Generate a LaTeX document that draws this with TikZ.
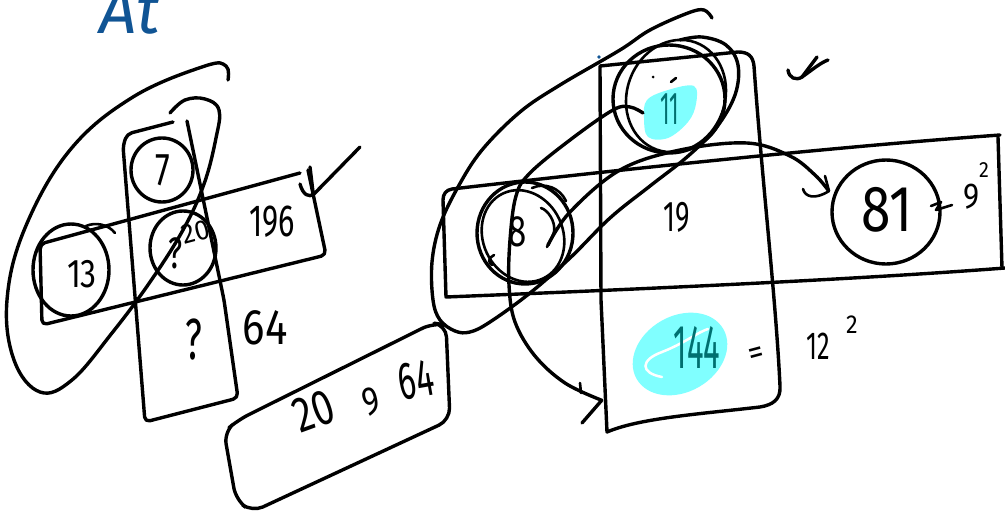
\documentclass[tikz,border=0pt]{standalone}
\usepackage{fontspec}
\usepackage{graphicx}
\setmainfont{Fira Sans}
\definecolor{inkblue}{RGB}{16,84,148}
\definecolor{teal1}{RGB}{0,112,112}
\definecolor{hlcyan}{RGB}{128,255,255}
\newcommand{\hw}[3]{\scalebox{#2}[1]{\fontsize{#1}{#1}\selectfont #3}}
\begin{document}
\begin{tikzpicture}[x=1pt,y=-1pt,
  ink/.style={line width=3.4pt, line cap=round, line join=round},
  fine/.style={line width=2.6pt, line cap=round, line join=round},
  hand/.style={inner sep=0pt, outer sep=0pt}]
\useasboundingbox (0,0) rectangle (1005,514);
\fill[white] (0,0) rectangle (1005,514);

% ---------- highlights (behind) ----------
\fill[hlcyan, rotate around={30:(680,354)}] (680,354) ellipse [x radius=50, y radius=38];
\draw[white, line width=2.5pt, line cap=round] (662,377) .. controls (640,373) and (640,360) .. (662,352) .. controls (685,343) and (698,332) .. (708,329);
\fill[hlcyan] plot[smooth cycle, tension=0.6] coordinates {(647,100) (668,90) (694,86) (696,104) (688,122) (668,138) (648,137) (644,118)};

% ---------- "At" ----------
\node[hand, anchor=base, text=inkblue] (at) at (130,34) {\fontsize{66}{66}\selectfont\itshape At};

% ---------- left figure ----------
\draw[ink, rounded corners=5pt] (173,122) -- (127,134) -- (123,146) -- (145,422) -- (238,398) -- (224,300) -- (187,121);
\draw[ink, rounded corners=5pt] (300,173) -- (40,244) -- (42,325) -- (326,255) -- (308,170);
\draw[ink] (162,170) ellipse [x radius=31, y radius=32];
\draw[ink] (183,248) ellipse [x radius=33, y radius=37];
\draw[ink] (71,270) ellipse [x radius=38, y radius=46];
\draw[fine] (86,226) .. controls (95,222) and (108,224) .. (115,233);
\draw[ink] plot[smooth, tension=0.65] coordinates {(228,80) (226,66) (205,66) (133,97) (70,150) (25,228) (7,300) (14,360) (40,392) (72,380) (112,333) (150,282) (183,230) (204,184) (216,138) (219,110) (205,99) (185,100) (170,113)};
\draw[ink] (300,184) .. controls (303,195) and (309,198) .. (314,194) -- (360,147);
\draw[ink] (310,167) -- (313,192);

\node[hand] (t7) at (163,170) {\hw{46}{0.72}{7}};
\node[hand] (t13) at (82,274) {\hw{40}{0.8}{13}};
\node[hand] (tq20) at (176,253) {\hw{44}{0.7}{?}};
\node[hand] (t20a) at (196,232) {\rotatebox{15}{\hw{28}{0.95}{20}}};
\node[hand] (t196) at (272,222) {\hw{45}{0.68}{196}};
\node[hand] (tq) at (194,340) {\hw{58}{0.63}{?}};
\node[hand] (t64) at (265,328) {\hw{50}{0.84}{64}};

% ---------- 20 9 64 box ----------
\draw[ink, rounded corners=12pt] (433,323) -- (446,325) -- (450,420) -- (252,512) -- (236,500) -- (224,432) -- (238,420) -- cycle;
\node[hand] (t20) at (314,411) {\rotatebox{20}{\hw{50}{0.76}{20}}};
\node[hand] (t9) at (371,402) {\rotatebox{15}{\hw{40}{0.8}{9}}};
\node[hand] (t64b) at (416,380) {\rotatebox{10}{\hw{53}{0.62}{64}}};

% ---------- right figure: frames ----------
\draw[ink] (600,66) -- (738,52) .. controls (748,52) and (753,56) .. (754,66) .. controls (762,180) and (776,300) .. (780,386) .. controls (781,400) and (772,405) .. (760,407) .. controls (700,414) and (640,418) .. (607,432) -- (601,300) -- (600,66);
\draw[ink] (1000,135) .. controls (820,148) and (600,172) .. (452,189) .. controls (446,190) and (443,194) .. (443,200) -- (446,297) .. controls (620,290) and (850,280) .. (1005,268);
\draw[ink] (998,137) -- (1002,268);

% circles
\draw[ink] (669,99) ellipse [x radius=56, y radius=54];
\draw[fine, rotate around={-20:(676,96)}] (676,96) ellipse [x radius=49, y radius=57];
\draw[ink] (525,233) ellipse [x radius=48, y radius=51];
\draw[fine, rotate around={25:(523,236)}] (523,236) ellipse [x radius=40, y radius=47];
\draw[ink] (886,212) ellipse [x radius=54, y radius=52];

% small scribbles around 8 and 11
\draw[fine] (532,188) .. controls (545,182) and (560,188) .. (566,201);
\draw[fine] (541,208) .. controls (548,210) and (556,222) .. (554,232) .. controls (552,238) and (549,243) .. (547,247);
\draw[fine] (494,255) .. controls (488,258) and (488,263) .. (492,265);
\fill (653,77) circle (1.5pt);
\draw[fine] (671,82) -- (676,78);
\fill[inkblue] (599,57) circle (1.8pt);

% loop A (around 8 and 11)
\draw[ink] plot[smooth, tension=0.6] coordinates {(712,18) (704,10) (688,13) (650,30) (620,50) (560,85) (520,112) (482,150) (458,187) (440,225) (432,262) (433,300) (440,320) (455,331) (470,332) (490,322) (530,293) (570,258) (610,218) (650,186) (687,157) (716,128) (735,95) (738,65) (726,45) (702,37) (680,40)};

% loop B / arrow to 144
\draw[ink] plot[smooth, tension=0.6] coordinates {(643,113) (630,107) (613,110) (570,140) (530,173) (516,196) (510,240) (509,285) (515,322) (535,356) (565,383) (601,400)};
\draw[ink] (582,423) -- (602,400);
\draw[fine] (580,383) -- (581,393);

% arrow 8 -> 81
\draw[ink] plot[smooth, tension=0.6] coordinates {(548,245) (570,212) (620,170) (680,150) (747,143) (790,156) (815,175) (828,190)};
\draw[fine] (803,189) .. controls (805,197) and (815,200) .. (829,191);
\draw[fine] (825,176) -- (829,191);

% ---------- right texts ----------
\node[hand, text=teal1] (t11) at (670,109) {\hw{46}{0.48}{11}};
\node[hand] (t8) at (518,232) {\hw{44}{0.75}{8}};
\node[hand] (t19) at (677,217) {\hw{43}{0.64}{19}};
\node[hand] (t81) at (887,210) {\hw{65}{0.82}{81}};
\node[hand, text=teal1] (t144) at (697,347) {\hw{62}{0.5}{144}};
\node[hand] (teq) at (757,356) {\rotatebox{15}{\hw{34}{0.9}{=}}};
\node[hand] (t12) at (818,346) {\hw{39}{0.65}{12}};
\node[hand] (t12s) at (852,325) {\hw{26}{0.9}{2}};
\draw[fine] (931,206) -- (941,202) -- (936,210) -- (952,205);
\node[hand] (t9b) at (972,197) {\hw{36}{0.85}{9}};
\node[hand] (t9s) at (984,170) {\hw{22}{0.9}{2}};
\draw[ink] (788,70) .. controls (789,78) and (796,81) .. (802,77) -- (817,57);
\draw[ink] (802,77) .. controls (812,70) and (820,63) .. (828,60);
\end{tikzpicture}
\end{document}
